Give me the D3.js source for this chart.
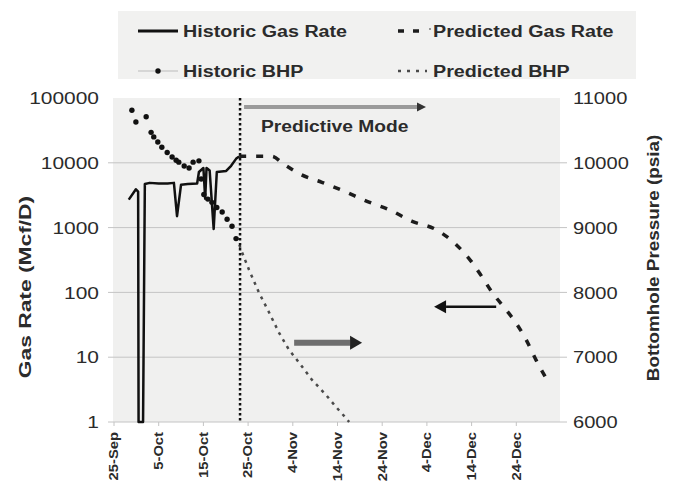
<!DOCTYPE html>
<html>
<head>
<meta charset="utf-8">
<script src="https://cdn.jsdelivr.net/npm/d3@7"></script>
<style>
  body { margin: 0; background: #fff; }
  text { font-family: "Liberation Sans", Arial, sans-serif; fill: #2b2b2b; }
</style>
</head>
<body>
<svg id="chart" width="673" height="481"></svg>
<script>
// chart data (days counted from 25-Sep)
const startDay = "2003-09-25"
const dateTicks = ["2003-09-25", "2003-10-05", "2003-10-15", "2003-10-25", "2003-11-04",
  "2003-11-14", "2003-11-24", "2003-12-04", "2003-12-14", "2003-12-24"]
const rateTicks = [1, 10, 100, 1000, 10000, 100000]
const bhpTicks = [6000, 7000, 8000, 9000, 10000, 11000]

const histGasDay = [3.3, 4.9, 5.4, 5.5, 6.5, 6.9, 8, 10, 12, 13.4, 14.1, 15.0, 16.5, 18.6, 19.0,
  20.0, 20.4, 20.7, 21.0, 21.4, 22.3, 23.0, 25.1, 26.2, 27.3, 28.0]
const histGasRate = [2700, 3900, 3600, 1, 1, 4700, 4900, 4800, 4800, 4900, 1500, 4600, 4700, 4800, 7200,
  8300, 2800, 8300, 8000, 7600, 950, 7200, 7500, 9000, 11500, 12500]

const histBhpDay = [4.0, 4.9, 7.2, 8.3, 8.9, 9.8, 10.7, 11.9, 13.0, 13.9, 14.5, 15.7, 16.8, 17.7,
  19.0, 19.5, 20.1, 21.0, 21.9, 23.0, 24.2, 25.3, 26.4, 27.3]
const histBhp = [10810, 10630, 10710, 10470, 10400, 10320, 10240, 10160, 10090, 10040, 10010, 9950,
  9920, 10010, 10030, 9750, 9510, 9440, 9390, 9310, 9240, 9130, 9020, 8830]

const predGasDay = [28.0, 35.3, 38.0, 41.8, 46.5, 51.5, 56.6, 61.5, 66.7, 72.0, 76.5, 80.1, 82.3,
  84.6, 87.7, 89.9, 92.2, 94.4, 97.3]
const predGasRate = [12600, 12600, 9500, 6600, 5000, 3640, 2540, 1900, 1250, 935, 550, 290, 175,
  100, 54, 34, 18.6, 9.1, 4.0]

const predBhpDay = [27.5, 28.4, 30.2, 32.4, 34.7, 36.9, 39.1, 41.8, 44.3, 47.4, 49.7, 51.9, 52.6]
const predBhp = [8850, 8660, 8350, 8000, 7690, 7380, 7120, 6880, 6650, 6420, 6230, 6060, 6000]

const predictiveStartDay = 28.2

const svg = d3.select("#chart")
const parse = d3.utcParse("%Y-%m-%d")
const fmt = d3.utcFormat("%-d-%b")
const start = parse(startDay)
const toDate = (d) => new Date(+start + d * 864e5)

// scales
const x = d3.scaleUtc().domain([start, d3.utcDay.offset(start, 100)]).range([114, 561])
const yRate = d3.scaleLog().domain([1, 100000]).range([422, 98])
const yBhp = d3.scaleLinear().domain([6000, 11000]).range([422, 98])

// stretch text a bit, the original font is wider than Arial
function widen(sel, k) {
  sel.each(function () {
    const w = this.getComputedTextLength()
    d3.select(this).attr("textLength", w * k).attr("lengthAdjust", "spacingAndGlyphs")
  })
}

// plot background
svg.append("rect")
  .attr("x", x.range()[0] - 1).attr("y", yRate.range()[1])
  .attr("width", x.range()[1] - x.range()[0]).attr("height", yRate.range()[0] - yRate.range()[1])
  .attr("fill", "#f0f0ef")

// gridlines
svg.append("g").selectAll("line")
  .data(rateTicks.slice(0, 5))
  .join("line")
  .attr("x1", x.range()[0] - 6).attr("x2", x.range()[1] + 6)
  .attr("y1", (d) => yRate(d)).attr("y2", (d) => yRate(d))
  .attr("stroke", "#c4c4c4").attr("stroke-width", 1)

// x tick marks
svg.append("g").selectAll("line")
  .data(dateTicks.map(parse))
  .join("line")
  .attr("x1", (d) => x(d)).attr("x2", (d) => x(d))
  .attr("y1", yRate(1)).attr("y2", yRate(1) + 4)
  .attr("stroke", "#c4c4c4")

// predicted BHP
const bhpLine = d3.line().x((d) => x(toDate(d[0]))).y((d) => yBhp(d[1]))
svg.append("path")
  .datum(d3.zip(predBhpDay, predBhp))
  .attr("d", bhpLine)
  .attr("fill", "none").attr("stroke", "#4a4a4a")
  .attr("stroke-width", 2.5).attr("stroke-dasharray", "3,5")

// predicted gas rate
const rateLine = d3.line().x((d) => x(toDate(d[0]))).y((d) => yRate(d[1]))
svg.append("path")
  .datum(d3.zip(predGasDay, predGasRate))
  .attr("d", rateLine.curve(d3.curveMonotoneX))
  .attr("fill", "none").attr("stroke", "#1c1c1c")
  .attr("stroke-width", 3.5).attr("stroke-dasharray", "7,10")

// historic gas rate
svg.append("path")
  .datum(d3.zip(histGasDay, histGasRate))
  .attr("d", d3.line().x((d) => x(toDate(d[0]))).y((d) => yRate(d[1])))
  .attr("fill", "none").attr("stroke", "#111")
  .attr("stroke-width", 2.5).attr("stroke-linejoin", "round")

// historic BHP dots
svg.append("g").selectAll("circle")
  .data(d3.zip(histBhpDay, histBhp))
  .join("circle")
  .attr("cx", (d) => x(toDate(d[0]))).attr("cy", (d) => yBhp(d[1]))
  .attr("r", 2.7).attr("fill", "#111")

// start of predictive mode
svg.append("line")
  .attr("x1", x(toDate(predictiveStartDay))).attr("x2", x(toDate(predictiveStartDay)))
  .attr("y1", yRate.range()[1]).attr("y2", yRate(1))
  .attr("stroke", "#111").attr("stroke-width", 2.5).attr("stroke-dasharray", "2.5,2.5")

// arrows
function arrow(d0, d1, v, shaft, head, w, hl, hw) {
  const x0 = x(toDate(d0)), x1 = x(toDate(d1)), y = yBhp(v)
  const dir = Math.sign(x1 - x0)
  svg.append("line")
    .attr("x1", x0).attr("x2", x1 - dir * hl).attr("y1", y).attr("y2", y)
    .attr("stroke", shaft).attr("stroke-width", w)
  svg.append("path")
    .attr("d", `M${x1},${y}L${x1 - dir * hl},${y - hw}L${x1 - dir * hl},${y + hw}Z`)
    .attr("fill", head)
}
arrow(29.1, 69.8, 10860, "#9a9a9a", "#333", 4, 9, 4.5)
arrow(40.3, 55.5, 7223, "#6e6e6e", "#222", 6, 12, 7)
arrow(85.5, 71.6, 7780, "#111", "#111", 2.5, 12, 6.5)

svg.append("text")
  .attr("x", x(toDate(32.9))).attr("y", yBhp(10567)).attr("dy", "0.35em")
  .attr("font-size", 16).attr("font-weight", "bold")
  .text("Predictive Mode")
  .call(widen, 1.2)

// left axis labels
svg.append("g").selectAll("text")
  .data(rateTicks)
  .join("text")
  .attr("x", 99).attr("y", (d) => yRate(d)).attr("dy", "0.36em")
  .attr("text-anchor", "end").attr("font-size", 17).attr("fill", "#333")
  .text((d) => d)
  .call(widen, 1.23)

// right axis labels
svg.append("g").selectAll("text")
  .data(bhpTicks)
  .join("text")
  .attr("x", 573).attr("y", (d) => yBhp(d)).attr("dy", "0.36em")
  .attr("font-size", 17).attr("fill", "#333")
  .text((d) => d)
  .call(widen, 1.18)

// x axis labels
svg.append("g").selectAll("text")
  .data(dateTicks.map(parse))
  .join("text")
  .attr("transform", (d) => `translate(${x(d)},432) rotate(-90)`)
  .attr("dy", "0.36em").attr("text-anchor", "end")
  .attr("font-size", 12).attr("font-weight", "bold")
  .text((d) => fmt(d))
  .call(widen, 1.23)

// axis titles
svg.append("text")
  .attr("transform", "translate(25,287) rotate(-90)")
  .attr("dy", "0.36em").attr("text-anchor", "middle")
  .attr("font-size", 17).attr("font-weight", "bold")
  .text("Gas Rate (Mcf/D)")
  .call(widen, 1.34)

svg.append("text")
  .attr("transform", "translate(653,258) rotate(-90)")
  .attr("dy", "0.36em").attr("text-anchor", "middle")
  .attr("font-size", 17).attr("font-weight", "bold")
  .text("Bottomhole Pressure (psia)")
  .call(widen, 1.11)

// legend
const legend = svg.append("g")
legend.append("rect")
  .attr("x", 118).attr("y", 11).attr("width", 518).attr("height", 68)
  .attr("fill", "#f1f1f0")

const legendItems = [
  { name: "Historic Gas Rate", col: 0, row: 0 },
  { name: "Predicted Gas Rate", col: 1, row: 0 },
  { name: "Historic BHP", col: 0, row: 1 },
  { name: "Predicted BHP", col: 1, row: 1 },
]
const lx = [138, 398], ly = [31, 71]

legendItems.forEach((it, i) => {
  const x0 = lx[it.col], y0 = ly[it.row]
  if (i === 0) {
    legend.append("line").attr("x1", x0).attr("x2", x0 + 40).attr("y1", y0).attr("y2", y0)
      .attr("stroke", "#111").attr("stroke-width", 3)
  } else if (i === 1) {
    legend.append("line").attr("x1", x0).attr("x2", x0 + 22).attr("y1", y0).attr("y2", y0)
      .attr("stroke", "#1c1c1c").attr("stroke-width", 3.5).attr("stroke-dasharray", "6,9")
    legend.append("line").attr("x1", x0 + 31).attr("x2", x0 + 33).attr("y1", y0 - 2).attr("y2", y0 - 2)
      .attr("stroke", "#777").attr("stroke-width", 1.5)
  } else if (i === 2) {
    legend.append("line").attr("x1", x0).attr("x2", x0 + 40).attr("y1", y0).attr("y2", y0)
      .attr("stroke", "#bbb").attr("stroke-width", 1)
    legend.append("circle").attr("cx", x0 + 20).attr("cy", y0).attr("r", 2.7).attr("fill", "#111")
  } else {
    legend.append("line").attr("x1", x0).attr("x2", x0 + 29).attr("y1", y0).attr("y2", y0)
      .attr("stroke", "#4a4a4a").attr("stroke-width", 2.5).attr("stroke-dasharray", "3,6")
  }
  legend.append("text")
    .attr("x", x0 + (it.col === 0 ? 45 : 35)).attr("y", y0).attr("dy", "0.36em")
    .attr("font-size", 16).attr("font-weight", "bold")
    .text(it.name)
    .call(widen, 1.23)
})
</script>
</body>
</html>
